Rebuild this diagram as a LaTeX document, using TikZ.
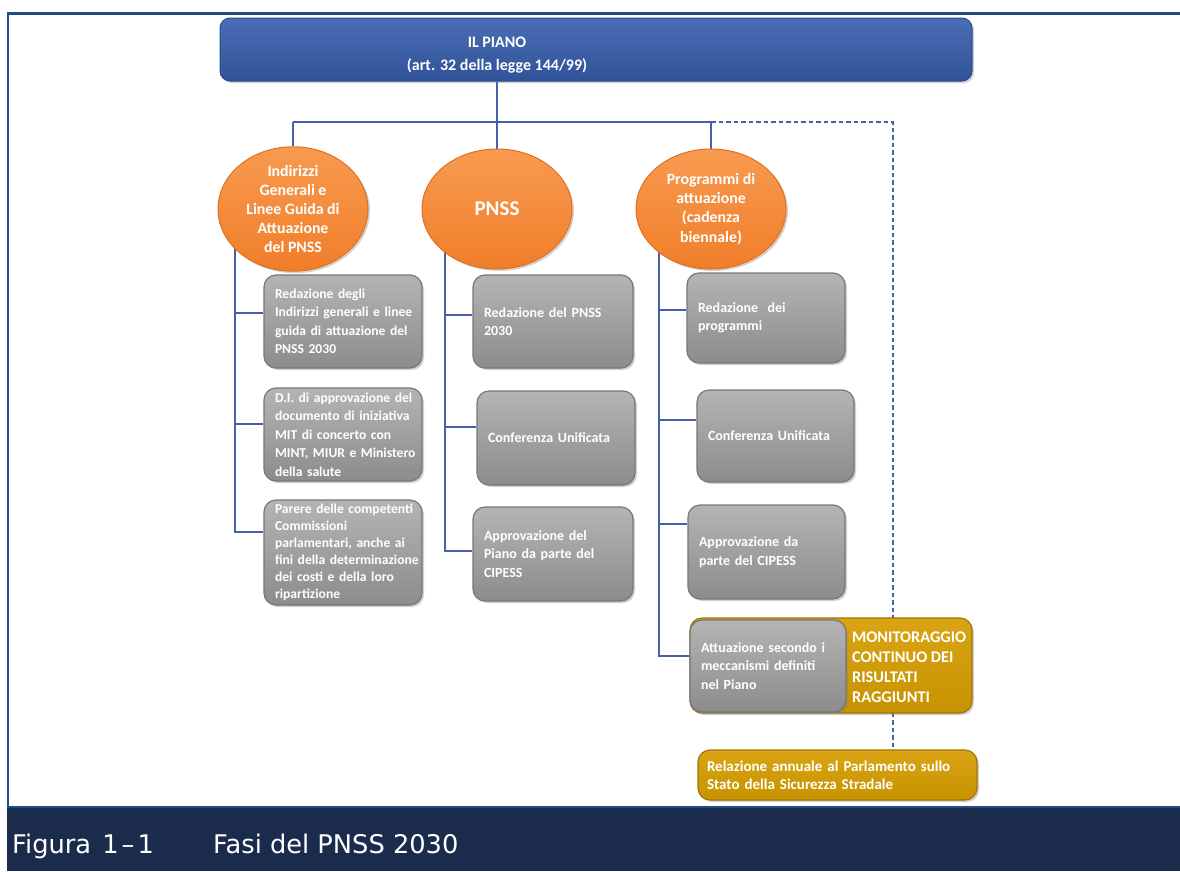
\documentclass[tikz,border=0pt]{standalone}
\usepackage{fontspec}
\setmainfont{Carlito}
\newfontfamily\capfont{DejaVu Sans}
\usetikzlibrary{shapes.geometric,shadows,calc,backgrounds}

\definecolor{frameblue}{HTML}{1F4E87}
\definecolor{bandnavy}{HTML}{1B2B4B}
\definecolor{connblue}{HTML}{4560A8}
\definecolor{pianotop}{HTML}{4A6DB5}
\definecolor{pianobot}{HTML}{2F5298}
\definecolor{pianoedge}{HTML}{2A4A88}
\definecolor{orangetop}{HTML}{F89A50}
\definecolor{orangebot}{HTML}{F07E2A}
\definecolor{orangeedge}{HTML}{E0701E}
\definecolor{graytop}{HTML}{B4B4B4}
\definecolor{graybot}{HTML}{8C8C8C}
\definecolor{grayedge}{HTML}{777777}
\definecolor{goldtop}{HTML}{DAA414}
\definecolor{goldbot}{HTML}{C79300}
\definecolor{goldedge}{HTML}{9E7608}

\begin{document}
\begin{tikzpicture}[x=1pt,y=-1pt,
 conn/.style={draw=connblue,line width=1.8pt},
 dashconn/.style={draw=connblue,line width=1.3pt,dash pattern=on 4.5pt off 3pt},
 sh/.style={drop shadow={shadow xshift=2pt,shadow yshift=-2pt,opacity=0.35}},
 piano/.style={rounded corners=10pt,top color=pianotop,bottom color=pianobot,draw=pianoedge,line width=1pt,inner sep=0pt,sh},
 pianotext/.style={text=white,font=\bfseries\fontsize{16}{23}\selectfont,align=center,inner sep=0pt},
 oval/.style={ellipse,top color=orangetop,bottom color=orangebot,draw=orangeedge,line width=1pt,text=white,font=\bfseries\fontsize{15.8}{19.2}\selectfont,align=center,inner sep=0pt,minimum width=150pt,minimum height=120pt,sh},
 stepbox/.style={rounded corners=12pt,top color=graytop,bottom color=graybot,draw=grayedge,line width=1.2pt,text=white,font=\bfseries\fontsize{14}{18.5}\selectfont,align=left,inner xsep=11pt,inner ysep=0pt,sh,
   execute at begin node={\hyphenpenalty=10000\exhyphenpenalty=10000\rightskip=-100pt plus 1fil\relax}},
 leftbox/.style={stepbox,font=\bfseries\fontsize{13.6}{18.5}\selectfont},
 goldbox/.style={rounded corners=12pt,top color=goldtop,bottom color=goldbot,draw=goldedge,line width=1.2pt,text=white,font=\bfseries\fontsize{15}{18}\selectfont,align=left,inner xsep=9pt,inner ysep=0pt,sh},
 captext/.style={anchor=base west,font=\capfont\fontsize{25.7}{26}\selectfont,text=white,inner sep=0pt},
]
\useasboundingbox (0,0) rectangle (1180,871);

% top box
\node[piano,minimum width=752pt,minimum height=63pt] (piano) at (596,49.5) {};
\node[pianotext] (pianotxt) at (497,55) {IL PIANO\\(art. 32 della legge 144/99)};

% ellipses
\node[oval] (ell1) at (293,209) {Indirizzi\\Generali e\\Linee Guida di\\Attuazione\\del PNSS};
\node[oval,font=\bfseries\fontsize{21}{24}\selectfont] (ell2) at (497,209) {PNSS};
\node[oval] (ell3) at (711,209) {Programmi di\\attuazione\\(cadenza\\biennale)};

% left column
\node[leftbox,minimum width=158pt,minimum height=93pt,text width=136pt] (b11) at (343,321.5) {Redazione degli\\Indirizzi generali e linee\\guida di attuazione del\\PNSS 2030};
\node[leftbox,minimum width=158pt,minimum height=93pt,text width=136pt] (b12) at (343,434.5) {D.I. di approvazione del\\documento di iniziativa\\MIT di concerto con\\MINT, MIUR e Ministero\\della salute};
\node[leftbox,font=\bfseries\fontsize{13.6}{17}\selectfont,minimum width=158pt,minimum height=105pt,text width=136pt] (b13) at (343,552.5) {Parere delle competenti\\Commissioni\\parlamentari, anche ai\\fini della determinazione\\dei costi e della loro\\ripartizione};

% middle column
\node[stepbox,minimum width=160pt,minimum height=93pt,text width=138pt] (b21) at (553,321.5) {Redazione del PNSS\\2030};
\node[stepbox,minimum width=158pt,minimum height=94pt,text width=136pt] (b22) at (556,438) {Conferenza Unificata};
\node[stepbox,minimum width=160pt,minimum height=94pt,text width=138pt] (b23) at (553,554) {Approvazione del\\Piano da parte del\\CIPESS};

% right column
\node[stepbox,minimum width=158pt,minimum height=90pt,text width=136pt] (b31) at (766,318) {Redazione\ \ dei\\programmi};
\node[stepbox,minimum width=157pt,minimum height=92pt,text width=135pt] (b32) at (775.5,436) {Conferenza Unificata};
\node[stepbox,minimum width=157pt,minimum height=94pt,text width=135pt] (b33) at (766.5,552) {Approvazione da\\parte del CIPESS};
\node[goldbox,minimum width=282pt,minimum height=95pt] (mon) at (831,665.5) {};
\node[stepbox,minimum width=156pt,minimum height=92pt,text width=134pt] (b34) at (768,666) {Attuazione secondo i\\meccanismi definiti\\nel Piano};
\node[anchor=west,text=white,font=\bfseries\fontsize{16.3}{20}\selectfont,align=left,inner sep=0pt] (montxt) at (852,667) {MONITORAGGIO\\CONTINUO DEI\\RISULTATI\\RAGGIUNTI};
\node[goldbox,minimum width=279pt,minimum height=50pt,text width=261pt] (rel) at (837.5,775) {Relazione annuale al Parlamento sullo\\Stato della Sicurezza Stradale};

% caption
\node[captext] (fig) at (12,853) {Figura\kern3pt{} 1\kern3pt–\kern3pt1};
\node[captext] (fas) at (213,853) {Fasi del PNSS 2030};

\coordinate (hL) at (293,122);
\coordinate (hM) at (497,122);
\coordinate (hR) at (711,122);
\coordinate (hD) at (893,122);
\coordinate (s1) at (235,209);
\coordinate (s2) at (445,209);
\coordinate (s3) at (659,209);

\begin{scope}[on background layer]
  \fill[white] (0,0) rectangle (1180,871);
  \fill[bandnavy] (7,806) rectangle (1180,871);
  \draw[frameblue,line width=2pt] (7,807) -- (1180,807);
  \draw[frameblue,line width=2.2pt] (8.3,806) -- (8.3,13.5) -- (1180,13.5);
  % connectors
  \draw[conn] (piano.south -| hM) -- (hM);
  \draw[conn] (hL) -- (hR);
  \draw[conn] (hL) -- (ell1.north);
  \draw[conn] (hM) -- (ell2.north);
  \draw[conn] (hR) -- (ell3.north);
  \draw[dashconn] (hR) -- (hD) -- (rel.north -| hD);
  \draw[conn] (s1) |- ([yshift=8.5pt]b11.west);
  \draw[conn] (s1) |- ([yshift=10.5pt]b12.west);
  \draw[conn] (s1) |- ([yshift=20.5pt]b13.west);
  \draw[conn] (s2) |- ([yshift=6.5pt]b21.west);
  \draw[conn] (s2) |- ([yshift=11pt]b22.west);
  \draw[conn] (s2) |- ([yshift=3pt]b23.west);
  \draw[conn] (s3) |- ([yshift=8pt]b31.west);
  \draw[conn] (s3) |- ([yshift=16pt]b32.west);
  \draw[conn] (s3) |- ([yshift=28pt]b33.west);
  \draw[conn] (s3) |- ([yshift=10pt]b34.west);
\end{scope}
\end{tikzpicture}
\end{document}
